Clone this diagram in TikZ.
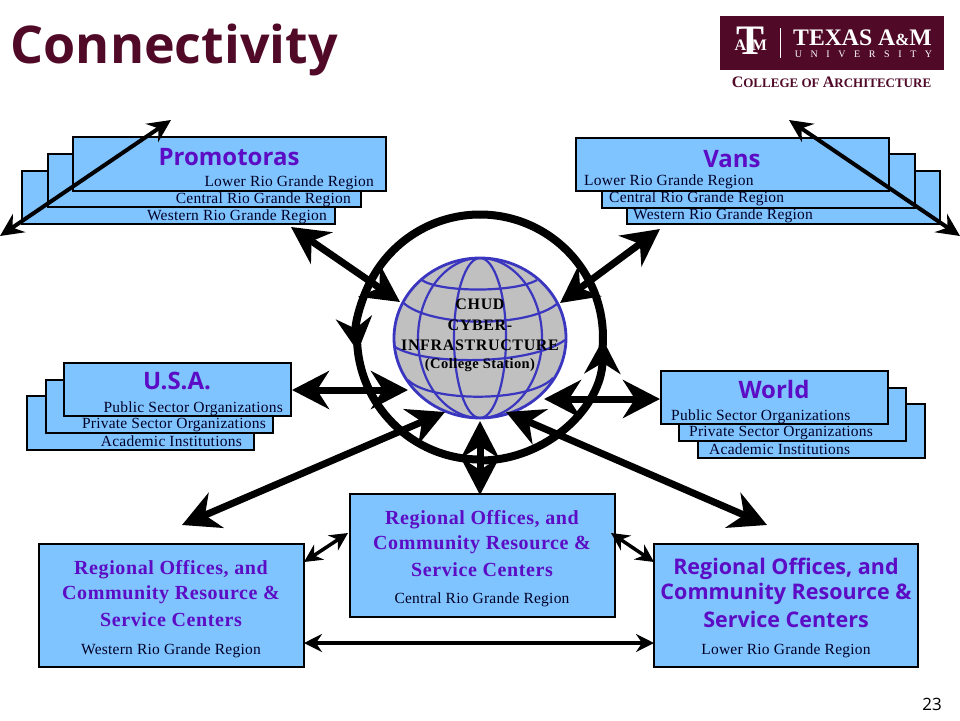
\documentclass[tikz,border=0pt]{standalone}
\usepackage{fontspec}
\setmainfont{Liberation Serif}
\newfontfamily\hsans{Open Sans}
\usetikzlibrary{arrows.meta,shapes.geometric}
\definecolor{boxblue}{HTML}{80C4FF}
\definecolor{tpurple}{HTML}{5C0CC4}
\definecolor{maroon}{HTML}{500A28}
\definecolor{gridblue}{HTML}{3A36C0}
\definecolor{globegrey}{HTML}{C0C0C0}
\newcommand{\fsz}[1]{\fontsize{#1}{#1}\selectfont}
\newcommand{\lsp}[1]{\addfontfeature{LetterSpace=#1}}
\tikzset{
  x=1pt,y=-1pt,
  panel/.style={draw=black,line width=1.1pt,fill=boxblue},
  heada/.style={text=tpurple,font=\hsans\bfseries\fsz{24}},
  small/.style={text=black!85!blue,font=\fsz{15.5}\lsp{1.5},yshift=-1.5pt,inner sep=0pt},
  regs/.style={text=tpurple,font=\bfseries\fsz{20}\lsp{3},yshift=-2pt},
  regsans/.style={text=tpurple,font=\hsans\bfseries\fsz{21.5},yshift=-2pt},
  big/.style={line width=7pt,{Stealth[length=37pt,width=38pt,inset=12pt]}-{Stealth[length=37pt,width=38pt,inset=12pt]}},
  thinarr/.style={line width=4pt,{Stealth[length=23pt,width=22pt,inset=8pt]}-{Stealth[length=23pt,width=22pt,inset=8pt]}},
  miniarr/.style={line width=3.5pt,{Stealth[length=18pt,width=18pt,inset=6pt]}-{Stealth[length=18pt,width=18pt,inset=6pt]}},
  ring/.style={line width=8pt,-{Stealth[length=34pt,width=36pt,inset=11pt]}},
  gridline/.style={draw=gridblue,line width=2.2pt},
  globetext/.style={text=black,font=\bfseries\fsz{16}\lsp{4}},
}
\begin{document}
\begin{tikzpicture}
\useasboundingbox (0,0) rectangle (960,720);
% title
\node[anchor=west,text=maroon,font=\hsans\bfseries\fsz{52}] (title) at (7,50) {Connectivity};
% logo
\fill[maroon] (720,16) rectangle (944,70);
\draw[white,line width=0.8pt] (780,28) -- (780,58);
\node[text=white,font=\bfseries\fsz{42}] (lgT) at (750,41) {T};
\node[text=white,font=\bfseries\fsz{16}] (lgA) at (740.5,45) {A};
\node[text=white,font=\bfseries\fsz{16}] (lgM) at (759.5,45) {M};
\node[text=white,font=\bfseries\fsz{23.7}] (lgtx) at (862.5,38) {TEXAS A\fsz{17}\&\fsz{23.7}M};
\node[text=white,font=\fsz{10}] (lguni) at (863.5,54) {U\hspace{8.6pt}N\hspace{8.6pt}I\hspace{8.6pt}V\hspace{8.6pt}E\hspace{8.6pt}R\hspace{8.6pt}S\hspace{8.6pt}I\hspace{8.6pt}T\hspace{8.6pt}Y};
\node[text=maroon,font=\bfseries\fsz{16}] (lgcol) at (831.5,82) {C\fsz{13}OLLEGE OF \fsz{16}A\fsz{13}RCHITECTURE};
% Promotoras
\draw[panel] (22,171) rectangle (335,224);
\draw[panel] (48,154) rectangle (361,207);
\draw[panel] (73,137) rectangle (386,191);
\node[heada] (ph) at (229,157) {Promotoras};
\node[small,anchor=east] (p1) at (374,181) {Lower Rio Grande Region};
\node[small,anchor=east] (p2) at (351,198) {Central Rio Grande Region};
\node[small,anchor=east] (p3) at (327,215) {Western Rio Grande Region};
% Vans
\draw[panel] (627,171) rectangle (940,224);
\draw[panel] (602,154) rectangle (915,208);
\draw[panel] (576,138) rectangle (889,191);
\node[heada] (vh) at (732,159) {Vans};
\node[small,anchor=west] (v1) at (584,180) {Lower Rio Grande Region};
\node[small,anchor=west] (v2) at (609,197) {Central Rio Grande Region};
\node[small,anchor=west] (v3) at (633,214) {Western Rio Grande Region};
% USA
\draw[panel] (27,396) rectangle (254,450);
\draw[panel] (46,380) rectangle (273,433);
\draw[panel] (64,363) rectangle (291,416);
\node[heada] (uh) at (177,381) {U.S.A.};
\node[small,anchor=east] (u1) at (283,407) {Public Sector Organizations};
\node[small,anchor=east] (u2) at (266,424) {Private Sector Organizations};
\node[small,anchor=east] (u3) at (242,440) {Academic Institutions};
% World
\draw[panel] (698,404) rectangle (925,458);
\draw[panel] (679,388) rectangle (906,441);
\draw[panel] (661,371) rectangle (888,424);
\node[heada] (wh) at (774,389) {World};
\node[small,anchor=west] (w1) at (671,415) {Public Sector Organizations};
\node[small,anchor=west] (w2) at (689,432) {Private Sector Organizations};
\node[small,anchor=west] (w3) at (709,448) {Academic Institutions};
% regional boxes
\node[panel,anchor=north west,minimum width=265pt,minimum height=123pt,inner sep=0pt,outer sep=0pt] (rw) at (39,544) {};
\node[panel,anchor=north west,minimum width=265pt,minimum height=123pt,inner sep=0pt,outer sep=0pt] (rc) at (350,494) {};
\node[panel,anchor=north west,minimum width=264pt,minimum height=123pt,inner sep=0pt,outer sep=0pt] (rl) at (654,544) {};
\node[regs] (rw1) at (171,568) {Regional Offices, and};
\node[regs] (rw2) at (171,593) {Community Resource \&};
\node[regs] (rw3) at (171,618) {Service Centers};
\node[small] (rw4) at (171,649) {Western Rio Grande Region};
\node[regs] (rc1) at (482,518) {Regional Offices, and};
\node[regs] (rc2) at (482,543) {Community Resource \&};
\node[regs] (rc3) at (482,568) {Service Centers};
\node[small] (rc4) at (482,598) {Central Rio Grande Region};
\node[regsans] (rl1) at (786,567) {Regional Offices, and};
\node[regsans] (rl2) at (786,592) {Community Resource \&};
\node[regsans] (rl3) at (786,617) {Service Centers};
\node[small] (rl4) at (786,649) {Lower Rio Grande Region};
\node[font=\hsans\fsz{17},text=black] (pageno) at (932,704) {23};
% ring
\coordinate (ringtop) at (480,214.5);
\coordinate (ringbot) at (480,460.5);
\coordinate (ringleft) at (357,337.5);
\draw[ring] (ringtop) arc (270:173.5:123);
\draw[ring] (ringbot) arc (90:1:123);
\draw[line width=8pt] (ringleft) ++(0,-1) arc (180:90:123);
\draw[line width=8pt] (ringtop) arc (270:372:123);
% globe
\node[ellipse,fill=globegrey,draw=none,minimum width=172pt,minimum height=160pt,inner sep=0pt,outer sep=0pt] (globe) at (480,338) {};
\begin{scope}
\clip (480,338) ellipse [x radius=86,y radius=80];
\draw[gridline] (480,338) ellipse [x radius=62,y radius=80];
\draw[gridline] (480,338) ellipse [x radius=26,y radius=80];
\draw[gridline] (421.7,280) .. controls (440,292.7) and (515,292.7) .. (537,280);
\draw[gridline] (402.7,302.3) .. controls (430,328) and (530,328) .. (558,303);
\draw[gridline] (395,347) .. controls (425,365.5) and (530,365.5) .. (565,340);
\draw[gridline] (408,380) .. controls (430,402.6) and (530,402.6) .. (553,378);
\end{scope}
\draw[gridline,line width=2.8pt] (480,338) ellipse [x radius=86,y radius=80];
\node[globetext] (g1) at (480,304) {CHUD};
\node[globetext] (g2) at (480,325) {CYBER-};
\node[globetext] (g3) at (480,345) {INFRASTRUCTURE};
\node[text=black,font=\bfseries\fsz{14.5}\lsp{3}] (g4) at (480,365) {(College Station)};
% free ends
\coordinate (pa) at (291,227);  \coordinate (pb) at (400,302);
\coordinate (va) at (660,229);  \coordinate (vb) at (560,303);
\coordinate (ua) at (292,390);  \coordinate (ub) at (408,390);
\coordinate (wa) at (660,399);  \coordinate (wb) at (544,399);
\coordinate (la) at (182,525);  \coordinate (lb) at (445,412);
\coordinate (ca) at (480,495);  \coordinate (cb) at (480,421);
\coordinate (ra) at (767,525);  \coordinate (rb) at (506,412);
\coordinate (t1a) at (0,236);   \coordinate (t1b) at (171,120);
\coordinate (t2a) at (789,120); \coordinate (t2b) at (960,236);
\coordinate (m1a) at (304,562); \coordinate (m1b) at (348,533);
\coordinate (m2a) at (611,533); \coordinate (m2b) at (654,562);
\coordinate (m3a) at (304,643); \coordinate (m3b) at (654,643);
% connectors
\draw[big] (pa) -- (pb);
\draw[big] (va) -- (vb);
\draw[big] (ua) -- (ub);
\draw[big] (wa) -- (wb);
\draw[big] (la) -- (lb);
\draw[big] (ca) -- (cb);
\draw[big] (ra) -- (rb);
\draw[thinarr] (t1a) -- (t1b);
\draw[thinarr] (t2a) -- (t2b);
\draw[miniarr] (m1a) -- (m1b);
\draw[miniarr] (m2a) -- (m2b);
\draw[miniarr,line width=4pt] (m3a) -- (m3b);
\end{tikzpicture}
\end{document}
